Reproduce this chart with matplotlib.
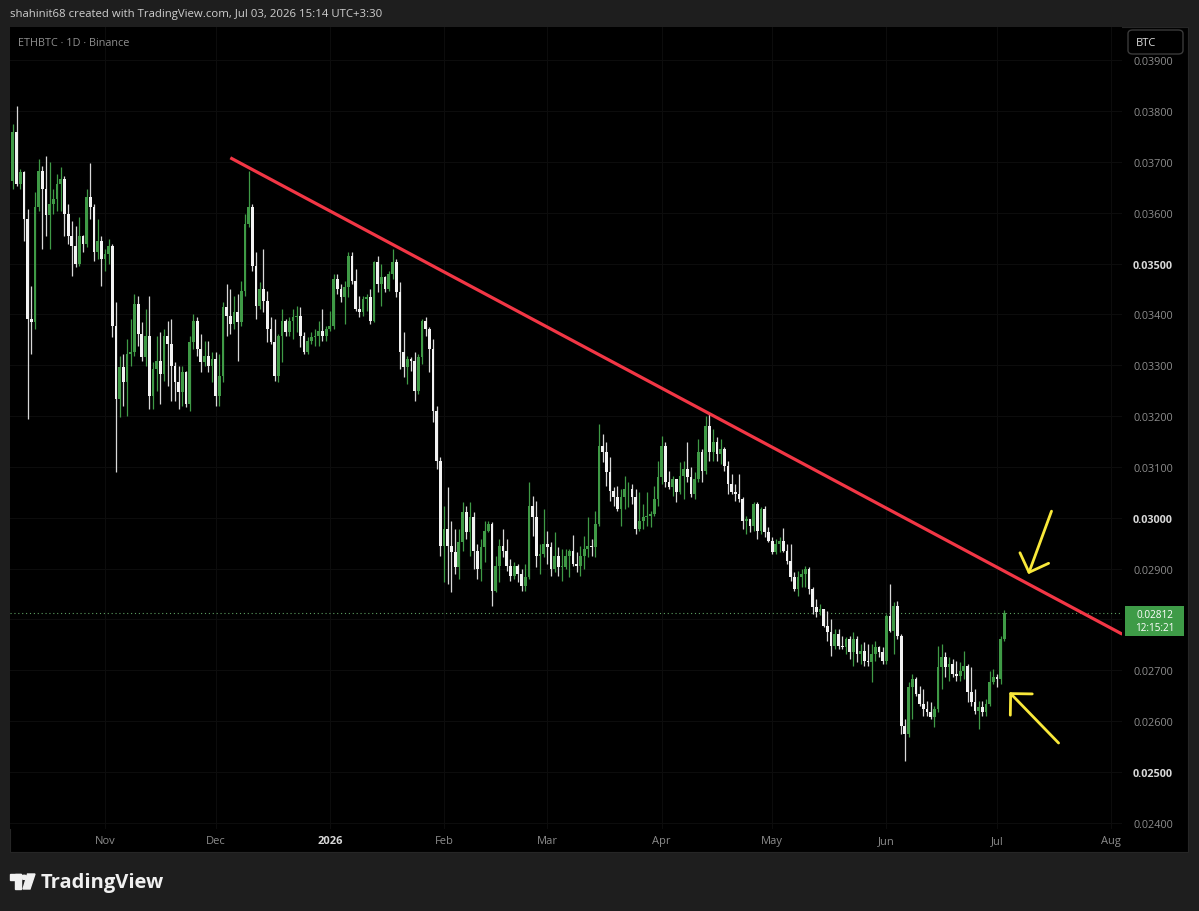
import datetime as dt
import numpy as np
import matplotlib
matplotlib.use("Agg")
import matplotlib.pyplot as plt
import matplotlib.dates as mdates
from matplotlib.patches import Rectangle, FancyBboxPatch, Polygon, Circle

plt.rcParams["font.family"] = ["Open Sans", "DejaVu Sans"]

# ---- ETHBTC daily candles, values in units of 1e-5 BTC ----
UNIT = 1e-5
FIRST_OPEN = 3662
LAST_DAY = dt.date(2026, 7, 3)

CLOSE = [
    3759, 3656, 3680, 3587, 3391, 3385, 3611, 3682, 3646, 3595,
    3617, 3627, 3656, 3666, 3597, 3554, 3534, 3499, 3554, 3538,
    3631, 3611, 3522, 3544, 3509, 3518, 3534, 3377, 3233, 3296,
    3267, 3322, 3326, 3420, 3361, 3316, 3357, 3239, 3292, 3308,
    3283, 3357, 3342, 3298, 3267, 3247, 3286, 3224, 3345, 3387,
    3332, 3306, 3318, 3298, 3312, 3239, 3279, 3414, 3397, 3381,
    3404, 3385, 3446, 3578, 3611, 3495, 3416, 3450, 3426, 3371,
    3345, 3279, 3357, 3387, 3365, 3387, 3395, 3397, 3357, 3326,
    3347, 3355, 3357, 3367, 3357, 3371, 3377, 3469, 3450, 3434,
    3454, 3515, 3465, 3410, 3404, 3430, 3434, 3387, 3503, 3460,
    3473, 3450, 3479, 3503, 3444, 3326,
    3296, 3312, 3308, 3249, 3316, 3387, 3371, 3332, 3210, 3111,
    2944, 2978, 2944, 2932, 2903, 2952, 3011, 2972, 3001, 2934,
    2899, 2942, 2974, 2988, 2856, 2905, 2944, 2934, 2905, 2885,
    2905, 2889, 2866, 2883,
    3023, 3001, 2925, 2929, 2948, 2942, 2899, 2925, 2903, 2903,
    2925, 2934, 2909, 2905, 2925, 2938, 2944, 2942, 2988, 3141,
    3129, 3090, 3052, 3041, 3017, 3041, 3056, 3056, 3041, 2978,
    2993, 3001, 3003, 3007, 3037, 3080, 3141, 3070, 3060, 3076,
    3051, 3082, 3096, 3080, 3047, 3076, 3129, 3092, 3180, 3129,
    3149, 3125, 3135, 3102, 3066, 3051, 3047, 3037, 2993, 2997,
    2984,
    3027, 2974, 3017, 2972, 2954, 2932, 2948, 2954, 2934, 2915,
    2883, 2860, 2883, 2889, 2899, 2860, 2824, 2815, 2820, 2787,
    2775, 2748, 2771, 2748, 2746, 2761, 2736, 2761, 2732,
    2738, 2718, 2716, 2732, 2746, 2736, 2718, 2807, 2777, 2826,
    2767, 2590, 2575, 2667, 2683, 2653, 2634, 2624, 2618, 2608,
    2624, 2706, 2726, 2706, 2712, 2693, 2689, 2698, 2708, 2657,
    2638, 2620, 2628, 2618, 2634, 2677, 2687, 2683, 2761,
    2812,
]

HIGH = [
    3774, 3810, 3686, 3682, 3607, 3456, 3640, 3705, 3692, 3711,
    3699, 3646, 3676, 3690, 3672, 3617, 3583, 3574, 3591, 3556,
    3646, 3697, 3617, 3587, 3554, 3528, 3548, 3538, 3424, 3318,
    3322, 3351, 3391, 3440, 3436, 3385, 3410, 3436, 3306, 3357,
    3365, 3371, 3387, 3391, 3306, 3298, 3298, 3288, 3357, 3400,
    3395, 3361, 3347, 3347, 3326, 3326, 3322, 3424, 3460, 3450,
    3436, 3440, 3465, 3597, 3682, 3617, 3522, 3463, 3528, 3446,
    3395, 3391, 3361, 3410, 3391, 3395, 3410, 3416, 3414, 3365,
    3355, 3365, 3371, 3387, 3410, 3377, 3406, 3479, 3479, 3460,
    3465, 3522, 3522, 3489, 3436, 3436, 3440, 3450, 3505, 3515,
    3499, 3475, 3485, 3528, 3509, 3463,
    3365, 3318, 3316, 3326, 3322, 3391, 3395, 3375, 3351, 3220,
    3119, 3023, 3060, 2993, 2978, 2978, 3031, 3023, 3031, 3011,
    2948, 2958, 2993, 2993, 2991, 2925, 2958, 2978, 2958, 2919,
    2913, 2909, 2899, 2909,
    3070, 3043, 3033, 2948, 3017, 2974, 2952, 2972, 2942, 2938,
    2938, 2938, 2966, 2932, 2944, 2964, 3001, 2958, 3013, 3184,
    3165, 3149, 3119, 3060, 3062, 3056, 3082, 3070, 3066, 3056,
    3051, 3027, 3051, 3013, 3062, 3111, 3161, 3149, 3092, 3082,
    3076, 3109, 3111, 3149, 3100, 3090, 3155, 3135, 3200, 3204,
    3174, 3159, 3155, 3139, 3111, 3086, 3066, 3086, 3041, 3003,
    2997,
    3031, 3031, 3021, 3023, 2982, 2962, 2958, 2962, 2980, 2948,
    2948, 2893, 2895, 2899, 2905, 2903, 2864, 2840, 2830, 2820,
    2816, 2801, 2781, 2781, 2767, 2765, 2767, 2775, 2767,
    2752, 2756, 2752, 2752, 2757, 2748, 2746, 2811, 2870, 2834,
    2836, 2771, 2604, 2677, 2693, 2687, 2669, 2663, 2639, 2637,
    2630, 2748, 2752, 2736, 2726, 2722, 2718, 2716, 2738, 2712,
    2706, 2663, 2639, 2639, 2643, 2698, 2702, 2693, 2767,
    2818,
]

LOW = [
    3647, 3652, 3646, 3544, 3194, 3322, 3371, 3603, 3528, 3554,
    3528, 3597, 3603, 3603, 3554, 3538, 3475, 3493, 3495, 3522,
    3532, 3587, 3505, 3509, 3456, 3485, 3499, 3355, 3090, 3198,
    3220, 3200, 3298, 3318, 3338, 3308, 3298, 3214, 3214, 3249,
    3224, 3269, 3259, 3229, 3229, 3214, 3220, 3218, 3210, 3332,
    3318, 3286, 3298, 3286, 3267, 3220, 3220, 3267, 3357, 3361,
    3371, 3308, 3377, 3436, 3572, 3485, 3391, 3410, 3404, 3345,
    3342, 3269, 3267, 3306, 3357, 3357, 3351, 3365, 3336, 3322,
    3322, 3342, 3338, 3338, 3347, 3347, 3367, 3371, 3440, 3424,
    3381, 3434, 3460, 3406, 3395, 3397, 3406, 3381, 3385, 3444,
    3416, 3444, 3446, 3469, 3434, 3292,
    3277, 3263, 3288, 3229, 3243, 3302, 3357, 3286, 3188, 3096,
    2925, 2873, 2870, 2854, 2889, 2879, 2934, 2958, 2925, 2899,
    2879, 2875, 2913, 2972, 2826, 2854, 2873, 2923, 2895, 2875,
    2879, 2873, 2856, 2856,
    2879, 2964, 2903, 2889, 2923, 2909, 2885, 2893, 2885, 2875,
    2899, 2883, 2905, 2893, 2885, 2899, 2923, 2925, 2923, 2984,
    3109, 3062, 3033, 3023, 3013, 2984, 3017, 3021, 3027, 2968,
    2974, 2978, 2984, 2982, 3003, 3023, 3066, 3060, 3056, 3043,
    3031, 3047, 3037, 3070, 3041, 3037, 3070, 3070, 3086, 3111,
    3111, 3111, 3106, 3092, 3047, 3047, 3033, 3031, 2978, 2968,
    2972,
    2974, 2958, 2968, 2962, 2952, 2929, 2929, 2932, 2932, 2909,
    2875, 2856, 2846, 2864, 2864, 2850, 2811, 2805, 2809, 2785,
    2757, 2728, 2742, 2742, 2742, 2732, 2722, 2708, 2716,
    2712, 2708, 2708, 2677, 2718, 2726, 2712, 2712, 2775, 2732,
    2761, 2575, 2522, 2569, 2604, 2649, 2630, 2610, 2610, 2604,
    2588, 2618, 2663, 2687, 2679, 2687, 2679, 2679, 2683, 2638,
    2630, 2614, 2584, 2610, 2610, 2630, 2673, 2667, 2673,
    2757,
]

# drawing objects
TREND = [(dt.datetime(2025, 12, 5), 0.03708), (dt.datetime(2026, 8, 4), 0.02771)]
ARROWS = [  # (tail, tip)
    ((dt.datetime(2026, 7, 15, 19), 0.03013), (dt.datetime(2026, 7, 9, 12), 0.02889)),
    ((dt.datetime(2026, 7, 17, 17), 0.02557), (dt.datetime(2026, 7, 4, 8), 0.02657)),
]
PRICE_TICKS = [0.024, 0.025, 0.026, 0.027, 0.028, 0.029, 0.030, 0.031,
               0.032, 0.033, 0.034, 0.035, 0.036, 0.037, 0.038, 0.039]
BOLD_TICKS = [0.025, 0.030, 0.035]
MONTHS = [dt.date(2025, 11, 1), dt.date(2025, 12, 1), dt.date(2026, 1, 1),
          dt.date(2026, 2, 1), dt.date(2026, 3, 1), dt.date(2026, 4, 1),
          dt.date(2026, 5, 1), dt.date(2026, 6, 1), dt.date(2026, 7, 1),
          dt.date(2026, 8, 1)]
MONTH_LABELS = ["Nov", "Dec", "2026", "Feb", "Mar", "Apr", "May", "Jun", "Jul", "Aug"]
HEADER = "shahinit68 created with TradingView.com, Jul 03, 2026 15:14 UTC+3:30"
SYMBOL = "ETHBTC · 1D · Binance"
COUNTDOWN = "12:15:21"

UP, DOWN = "#3f9a46", "#f2f2f2"
BG, PANEL, GRID = "#1e1e1e", "#000000", "#0c0c0c"

# ---- figure / panel (pixel layout of the screenshot) ----------------------
W, H = 1199, 912
fig = plt.figure(figsize=(W / 100, H / 100), dpi=100, facecolor=BG)
fx = lambda px: px / W
fy = lambda py: 1 - py / H

fig.patches.append(Rectangle((fx(10), fy(853)), fx(1178), 825 / H,
                             transform=fig.transFigure, facecolor=PANEL,
                             edgecolor="#262626", lw=0.8, zorder=-5))
ax = fig.add_axes([fx(10), fy(830), fx(1112), 802 / H])
ax.set_facecolor(PANEL)
for s in ax.spines.values():
    s.set_visible(False)

# ---- candles ---------------------------------------------------------------
n = len(CLOSE)
days = mdates.date2num([LAST_DAY - dt.timedelta(days=n - 1 - i) for i in range(n)])
c = np.array(CLOSE) * UNIT
o = np.array([FIRST_OPEN] + CLOSE[:-1]) * UNIT
h = np.maximum(np.array(HIGH) * UNIT, np.maximum(o, c))
l = np.minimum(np.array(LOW) * UNIT, np.minimum(o, c))
up = c >= o
cols = np.where(up, UP, DOWN)
wick_cols = np.where(up, UP, "#d8d8d8")
ax.vlines(days, l, h, colors=wick_cols, lw=0.9, zorder=3)
ax.bar(days, np.maximum(np.abs(c - o), 1.5e-5), bottom=np.minimum(o, c),
       width=0.74, color=cols, linewidth=0, zorder=4)

# trend line + current price line
ax.plot([mdates.date2num(TREND[0][0]), mdates.date2num(TREND[1][0])],
        [TREND[0][1], TREND[1][1]], color="#f23645", lw=2.3,
        solid_capstyle="butt", zorder=6)
ax.axhline(c[-1], color="#5c9e61", lw=0.8, ls=(0, (1, 2.5)), zorder=2)

for tail, tip in ARROWS:
    ax.annotate("", xy=(mdates.date2num(tip[0]), tip[1]),
                xytext=(mdates.date2num(tail[0]), tail[1]),
                arrowprops=dict(arrowstyle="->,head_length=0.55,head_width=0.55",
                                mutation_scale=20, color="#f9e83a", lw=2.0,
                                shrinkA=0, shrinkB=0),
                annotation_clip=False, zorder=7)

# ---- axes ------------------------------------------------------------------
x0 = mdates.date2num(dt.datetime(2025, 11, 1)) - 95 / 3.686
x1 = mdates.date2num(dt.datetime(2026, 7, 1)) + 125 / 3.686
ax.set_xlim(x0, x1)
ax.set_ylim(0.023879, 0.039652)

ax.set_xticks(mdates.date2num(MONTHS))
ax.set_xticklabels(MONTH_LABELS)
ax.set_yticks(PRICE_TICKS)
ax.set_yticklabels([f"{p:.5f}" for p in PRICE_TICKS])
ax.yaxis.tick_right()
ax.tick_params(axis="x", length=0, pad=4.5, labelsize=8, labelcolor="#8c8c8c")
ax.tick_params(axis="y", length=0, pad=8, labelsize=7.8, labelcolor="#8c8c8c")
for lab, p in zip(ax.get_yticklabels(), PRICE_TICKS):
    if any(abs(p - b) < 1e-9 for b in BOLD_TICKS):
        lab.set_color("#d8d8d8")
        lab.set_fontweight("bold")
    if abs(p - c[-1]) < 0.0004:      # hidden behind the last-price label
        lab.set_visible(False)
for lab, txt in zip(ax.get_xticklabels(), MONTH_LABELS):
    if txt == "2026":
        lab.set_color("#d8d8d8")
        lab.set_fontweight("bold")
ax.grid(True, color=GRID, lw=0.8, zorder=0)
ax.set_axisbelow(True)

# ---- texts & widgets ---------------------------------------------------------
fig.text(fx(10), fy(14), HEADER, color="#cfcfcf", fontsize=8.2, va="center")
fig.text(fx(18), fy(43), SYMBOL, color="#8f8f8f", fontsize=7.8, va="center")

btc = FancyBboxPatch((fx(1128), fy(55)), fx(55), 24 / H,
                     boxstyle="round,pad=0,rounding_size=0.004",
                     transform=fig.transFigure, facecolor=PANEL,
                     edgecolor="#3a3a3a", lw=1.0, zorder=10)
fig.add_artist(btc)
fig.text(fx(1136), fy(43), "BTC", color="#dcdcdc", fontsize=8, va="center", zorder=11)

# last price label on the price scale
yp = ax.transData.transform((x0, c[-1]))[1]
lab_box = Rectangle((fx(1125), (yp - 23) / H), fx(59), 30 / H,
                    transform=fig.transFigure, facecolor="#3e9b47",
                    edgecolor="none", zorder=10)
fig.add_artist(lab_box)
fig.text(fx(1154.5), (yp - 7.5) / H, f"{c[-1]:.5f}\n{COUNTDOWN}", color="white",
         fontsize=7.2, ha="center", va="center", linespacing=1.3, zorder=11)

# TradingView logo
logo = "#f0f0f0"
fig.add_artist(Rectangle((fx(10), fy(880.5)), fx(10.7), 5.5 / H,
                         transform=fig.transFigure, color=logo))
fig.add_artist(Rectangle((fx(15.2), fy(890)), fx(5.5), 15 / H,
                         transform=fig.transFigure, color=logo))
fig.add_artist(Circle((fx(24.2), fy(878.3)), fx(2.7), transform=fig.transFigure,
                      color=logo))
fig.add_artist(Polygon([(fx(27.5), fy(875)), (fx(35), fy(875)),
                        (fx(30), fy(890)), (fx(23), fy(890))],
                       closed=True, transform=fig.transFigure, color=logo))
fig.text(fx(41), fy(883), "TradingView", color=logo, fontsize=14.5,
         fontweight="bold", va="center")

fig.savefig("out.png", dpi=100, facecolor=BG)
